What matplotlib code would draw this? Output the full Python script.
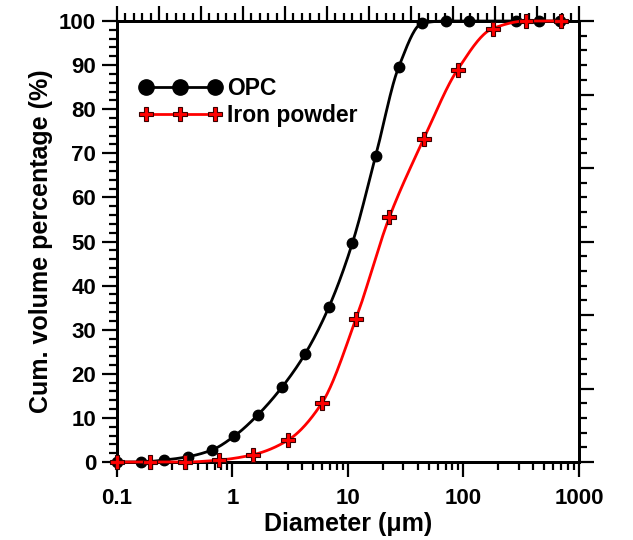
import numpy as np
import matplotlib
matplotlib.use("Agg")
import matplotlib.pyplot as plt
from matplotlib.lines import Line2D
from matplotlib.ticker import FixedLocator, MultipleLocator, NullFormatter, LogLocator, FuncFormatter

plt.rcParams['font.family'] = ['Liberation Sans', 'DejaVu Sans']
plt.rcParams['font.weight'] = 'bold'

# ---- data ----
opc_diameter = [0.1, 0.16, 0.257, 0.41, 0.66, 1.04, 1.66, 2.67, 4.27, 6.85, 10.9, 17.4,
                27.5, 44, 70.5, 111, 285, 450, 690]
opc_volume = [0, 0, 0.45, 1.2, 2.7, 5.9, 10.7, 16.9, 24.6, 35.2, 49.6, 69.5,
              89.6, 99.5, 100, 100, 100, 100, 100]

iron_diameter = [0.1, 0.195, 0.39, 0.77, 1.51, 3.0, 5.92, 11.7, 22.8, 45.2, 89, 179, 350, 692]
iron_volume = [0, 0, 0, 0.45, 1.66, 4.9, 13.3, 32.4, 55.5, 73.2, 89.0, 98.3, 100, 100]

x_tick_values = [0.1, 1, 10, 100, 1000]
x_tick_labels = ["0.1", "1", "10", "100", "1000"]
y_tick_values = list(range(0, 101, 10))

series_labels = ["OPC", "Iron powder"]


def pchip(x, y, xn):
    x = np.asarray(x, float); y = np.asarray(y, float)
    h = np.diff(x); d = np.diff(y) / h
    n = len(x); m = np.zeros(n)
    for k in range(1, n - 1):
        if d[k - 1] * d[k] > 0:
            w1 = 2 * h[k] + h[k - 1]; w2 = h[k] + 2 * h[k - 1]
            m[k] = (w1 + w2) / (w1 / d[k - 1] + w2 / d[k])
    m[0] = d[0]; m[-1] = d[-1]
    idx = np.clip(np.searchsorted(x, xn) - 1, 0, n - 2)
    t = (xn - x[idx]) / h[idx]
    h00 = 2 * t**3 - 3 * t**2 + 1; h10 = t**3 - 2 * t**2 + t
    h01 = -2 * t**3 + 3 * t**2; h11 = t**3 - t**2
    return h00 * y[idx] + h10 * h[idx] * m[idx] + h01 * y[idx + 1] + h11 * h[idx] * m[idx + 1]


def smooth(xs, ys):
    lx = np.log10(xs)
    grid = np.linspace(lx[0], lx[-1], 600)
    return 10**grid, pchip(lx, ys, grid)


fig = plt.figure(figsize=(6.33, 5.40), dpi=100)
ax = fig.add_axes([0.1848, 0.1444, 0.7299, 0.8167])

LW = 2.0
sx, sy = smooth(opc_diameter, opc_volume)
ax.plot(sx, sy, color='black', lw=LW, zorder=3, clip_on=False)
ax.plot(opc_diameter, opc_volume, 'o', color='black', ms=7.5, zorder=4, clip_on=False)

sx2, sy2 = smooth(iron_diameter, iron_volume)
ax.plot(sx2, sy2, color='#ff0000', lw=LW, zorder=5, clip_on=False)
ax.plot(iron_diameter, iron_volume, 'P', mfc='#ff0000', mec='#3a0000', mew=0.8,
        ms=10, zorder=6, clip_on=False)

ax.set_xscale('log')
ax.set_xlim(0.1, 1000)
ax.set_ylim(0, 100)
ax.xaxis.set_major_locator(FixedLocator(x_tick_values))
ax.xaxis.set_major_formatter(FuncFormatter(lambda v, p: x_tick_labels[x_tick_values.index(v)]
                                           if v in x_tick_values else ""))
ax.xaxis.set_minor_locator(LogLocator(base=10, subs=np.arange(2, 10)))
ax.xaxis.set_minor_formatter(NullFormatter())
ax.yaxis.set_major_locator(FixedLocator(y_tick_values))
ax.yaxis.set_minor_locator(MultipleLocator(2))

for s in ax.spines.values():
    s.set_linewidth(2.0)

ax.tick_params(which='major', direction='out', length=11, width=1.6, labelsize=16)
ax.tick_params(which='minor', direction='out', length=6, width=1.6)
ax.tick_params(axis='x', which='major', pad=8)
ax.tick_params(axis='y', which='major', pad=4)
for lab in ax.get_xticklabels() + ax.get_yticklabels():
    lab.set_fontweight('bold')

ax.set_xlabel("Diameter (μm)", fontsize=18, fontweight='bold', labelpad=2)
ax.set_ylabel("Cum. volume percentage (%)", fontsize=18, fontweight='bold', labelpad=4)

# top axis (independent linear ticks)
axt = ax.twiny()
axt.set_xlim(0, 11)
axt.xaxis.set_major_locator(MultipleLocator(1))
axt.xaxis.set_minor_locator(MultipleLocator(0.2))
axt.tick_params(axis='x', which='major', direction='out', length=11, width=1.6, labeltop=False)
axt.tick_params(axis='x', which='minor', direction='out', length=6, width=1.6)
# right axis
axr = ax.twinx()
axr.set_ylim(0, 6)
axr.yaxis.set_major_locator(MultipleLocator(1))
axr.yaxis.set_minor_locator(MultipleLocator(0.2))
axr.tick_params(axis='y', which='major', direction='out', length=11, width=1.6, labelright=False)
axr.tick_params(axis='y', which='minor', direction='out', length=6, width=1.6)
for a in (axt, axr):
    for s in a.spines.values():
        s.set_linewidth(2.0)
    a.set_zorder(0)
ax.set_zorder(1)
ax.patch.set_visible(False)

handles = [
    Line2D([], [], color='black', lw=LW, marker='o', ms=11),
    Line2D([], [], color='#ff0000', lw=LW, marker='P', mfc='#ff0000', mec='#3a0000',
           mew=0.8, ms=10),
]
leg = ax.legend(handles, series_labels, loc='upper left', bbox_to_anchor=(0.048, 0.873),
                frameon=False, numpoints=3, handlelength=3.6, handletextpad=0.25,
                labelspacing=0.18, borderpad=0, borderaxespad=0,
                prop={'size': 16.5, 'weight': 'bold'})

fig.savefig("out.png", dpi=100)
